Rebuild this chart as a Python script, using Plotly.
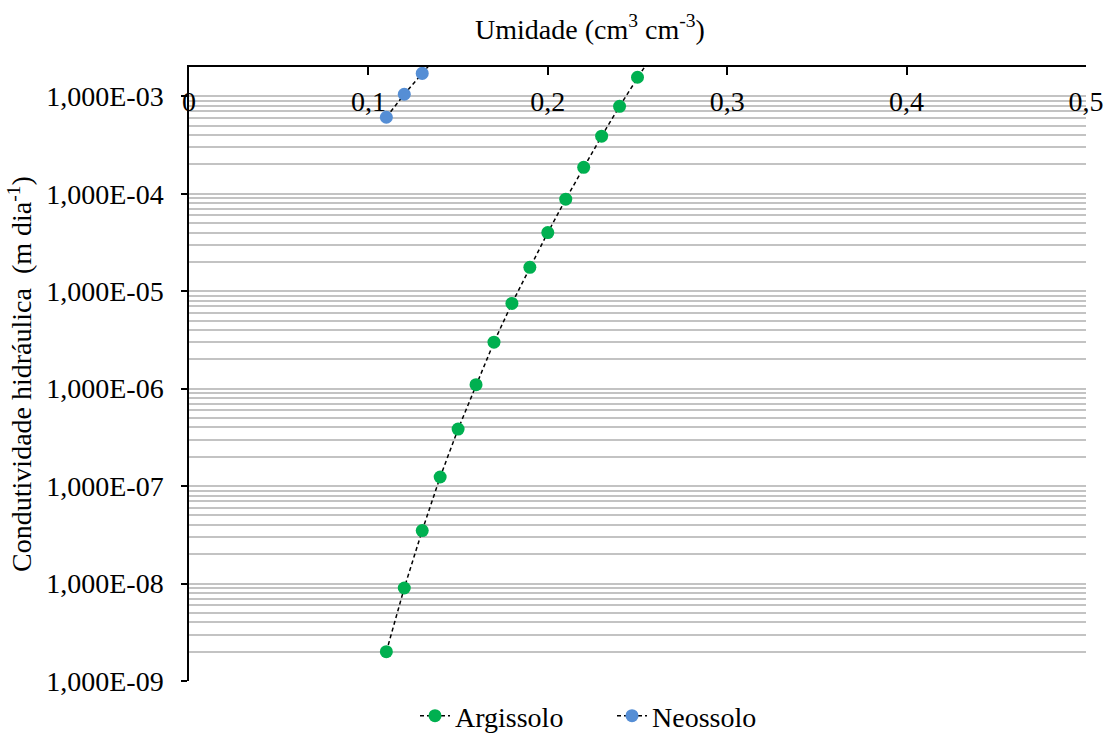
import plotly.graph_objects as go

# ---- data ----
umidade_argissolo = [0.11, 0.12, 0.13, 0.14, 0.15, 0.16, 0.17, 0.18, 0.19, 0.20,
                     0.21, 0.22, 0.23, 0.24, 0.25, 0.26]
k_argissolo = [2.0e-9, 9.0e-9, 3.5e-8, 1.24e-7, 3.85e-7, 1.1e-6, 3.0e-6, 7.5e-6,
               1.76e-5, 4.0e-5, 8.8e-5, 1.87e-4, 3.9e-4, 7.9e-4, 1.57e-3, 3.0e-3]

umidade_neossolo = [0.11, 0.12, 0.13, 0.14]
k_neossolo = [6.1e-4, 1.05e-3, 1.72e-3, 2.8e-3]

y_tick_vals = [1e-9, 1e-8, 1e-7, 1e-6, 1e-5, 1e-4, 1e-3]
y_tick_text = ["1,000E-09", "1,000E-08", "1,000E-07", "1,000E-06",
               "1,000E-05", "1,000E-04", "1,000E-03"]
x_tick_vals = [0, 0.1, 0.2, 0.3, 0.4, 0.5]
x_tick_text = ["0", "0,1", "0,2", "0,3", "0,4", "0,5"]

FONT = "Liberation Serif"
FS = 28
GRID = "#c3c3c3"
F = dict(family=FONT, size=FS, color="black")

fig = go.Figure()
fig.add_trace(go.Scatter(
    x=umidade_argissolo, y=k_argissolo, name="Argissolo", mode="lines+markers",
    line=dict(color="black", width=1.5, dash="4px,3px"),
    marker=dict(color="#00b050", size=13),
))
fig.add_trace(go.Scatter(
    x=umidade_neossolo, y=k_neossolo, name="Neossolo", mode="lines+markers",
    line=dict(color="black", width=1.5, dash="4px,3px"),
    marker=dict(color="#558ed5", size=13),
))

fig.update_layout(
    width=1110, height=733,
    margin=dict(l=189, r=24, t=67, b=52, autoexpand=False),
    paper_bgcolor="white", plot_bgcolor="white",
    font=F,
    showlegend=True,
    legend=dict(orientation="h", xref="container", yref="container",
                x=415 / 1110, xanchor="left", y=1 - 716 / 733, yanchor="middle",
                font=F, itemwidth=30, entrywidth=152, traceorder="normal"),
    xaxis=dict(
        side="top", range=[0, 0.5], tickmode="array", tickvals=x_tick_vals,
        showticklabels=False, ticks="inside", ticklen=8, tickcolor="black",
        tickwidth=1.5, showline=True, linecolor="black", linewidth=1.5,
        showgrid=False, zeroline=False,
    ),
    xaxis2=dict(
        overlaying="x", matches="x", side="top", anchor="free",
        position=(681 - 117) / 614, range=[0, 0.5],
        tickmode="array", tickvals=x_tick_vals, ticktext=x_tick_text,
        tickfont=F, ticks="", showline=False, showgrid=False, zeroline=False,
    ),
    yaxis=dict(
        type="log", range=[-9, -2.699], tickmode="array", tickvals=y_tick_vals,
        ticktext=y_tick_text, tickfont=F, ticks="outside", ticklen=6, tickcolor="black",
        tickwidth=1.5, showline=True, linecolor="black", linewidth=1.5,
        showgrid=True, gridcolor=GRID, gridwidth=1.5, zeroline=False,
        ticklabelstandoff=12,
        minor=dict(dtick="D1", showgrid=True, gridcolor=GRID, gridwidth=1.5, ticks=""),
        title=dict(text="Condutividade hidráulica\u00a0 (m dia<sup>-1</sup>)",
                   font=F, standoff=6),
    ),
    annotations=[dict(
        text="Umidade (cm<sup>3</sup> cm<sup>-3</sup>)", xref="paper", yref="paper",
        x=(589.5 - 189) / 897, y=1 + (67 - 28) / 614, xanchor="center", yanchor="middle",
        showarrow=False, font=F,
    )],
)

# an invisible trace so the overlay axis carrying the tick labels is drawn
fig.add_trace(go.Scatter(x=[], y=[], xaxis="x2", showlegend=False, hoverinfo="skip"))

fig.write_html("out.html")
